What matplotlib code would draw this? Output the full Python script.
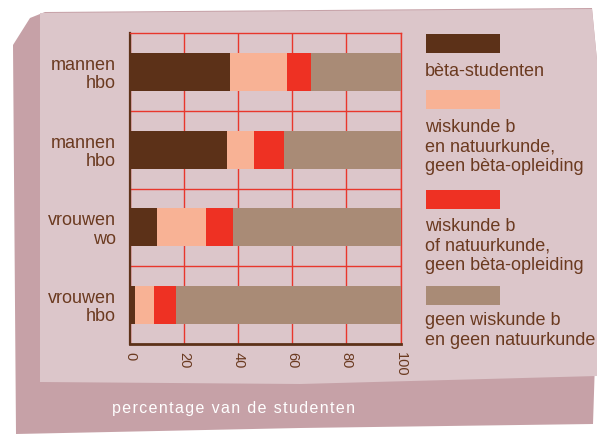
import numpy as np
import matplotlib.pyplot as plt
from matplotlib.patches import Polygon, Rectangle

plt.rcParams['font.family'] = ['Liberation Sans', 'DejaVu Sans']

groups = ["mannen\nhbo", "mannen\nhbo", "vrouwen\nwo", "vrouwen\nhbo"]
beta = [37, 36, 10, 2]
wisk_en_nat = [21, 10, 18, 7]
wisk_of_nat = [9, 11, 10, 8]
geen = [33, 43, 62, 83]
series = [beta, wisk_en_nat, wisk_of_nat, geen]
series_labels = ["bèta-studenten",
                 "wiskunde b\nen natuurkunde,\ngeen bèta-opleiding",
                 "wiskunde b\nof natuurkunde,\ngeen bèta-opleiding",
                 "geen wiskunde b\nen geen natuurkunde"]
colors = ["#5c3118", "#f8b295", "#ee3123", "#a98b76"]
ticks = [0, 20, 40, 60, 80, 100]

TXT = "#6b3a20"
GRID = "#e8372c"
W, H = 597, 441


def fx(x):
    return x / W


def fy(y):
    return 1 - y / H


def pts(lst):
    return [(fx(x), fy(y)) for x, y in lst]


fig = plt.figure(figsize=(5.97, 4.41), dpi=100, facecolor="white")

# stone block behind the chart
fig.add_artist(Polygon(pts([(13, 45), (30, 18), (45, 12), (592, 8), (597, 60),
                            (597, 300), (593, 424), (300, 428), (16, 434)]),
                       closed=True, transform=fig.transFigure,
                       facecolor="#c6a1a7", edgecolor="none", zorder=0))
fig.add_artist(Polygon(pts([(40, 13), (592, 9), (597, 60), (597, 376),
                            (300, 384), (40, 382)]),
                       closed=True, transform=fig.transFigure,
                       facecolor="#dcc6ca", edgecolor="none", zorder=0))

ax = fig.add_axes([fx(130), fy(344), (400.5 - 130) / W, (344 - 33) / H])
ax.patch.set_alpha(0)

y = np.arange(len(groups))
left = np.zeros(len(groups))
for vals, c in zip(series, colors):
    ax.barh(y, vals, left=left, height=0.49, color=c, zorder=3)
    left += np.array(vals)

ax.set_xlim(0, 100)
ax.set_ylim(3.5, -0.5)
ax.set_xticks(ticks)
ax.set_xticklabels([str(t) for t in ticks], rotation=-90, ha="center", va="top",
                   fontsize=10.5, color=TXT)
ax.set_yticks(y)
ax.set_yticklabels(groups, fontsize=13, color=TXT)
for lbl in ax.get_yticklabels():
    lbl.set_linespacing(1.1)
ax.tick_params(length=0)
ax.tick_params(axis="y", pad=10)
ax.tick_params(axis="x", pad=6)

ax.grid(axis="x", color=GRID, lw=1, zorder=1)
for b in y[:-1] + 0.5:
    ax.axhline(b, color=GRID, lw=1, zorder=1)

ax.spines["top"].set_color(GRID)
ax.spines["top"].set_linewidth(1)
ax.spines["right"].set_color(GRID)
ax.spines["right"].set_linewidth(1)
ax.spines["left"].set_color("#5c3118")
ax.spines["left"].set_linewidth(1.6)
ax.spines["bottom"].set_color("#5c3118")
ax.spines["bottom"].set_linewidth(2)

# legend: swatch above the text
sw_tops = [34, 90, 190, 286]
txt_tops = [63, 119, 218, 312]
for c, lab, st, tt in zip(colors, series_labels, sw_tops, txt_tops):
    fig.add_artist(Rectangle((fx(426), fy(st + 19)), 74 / W, 19 / H,
                             transform=fig.transFigure, facecolor=c,
                             edgecolor="none"))
    fig.text(fx(425), fy(tt), lab, ha="left", va="top", fontsize=13,
             color=TXT, linespacing=1.2)

xlabel = "\u200a".join("percentage van de studenten")
fig.text(fx(233), fy(409), xlabel, ha="center", va="center", fontsize=11.5,
         color="white", family=["Liberation Sans", "DejaVu Sans"])

fig.savefig("out.png", dpi=100, facecolor="white")
